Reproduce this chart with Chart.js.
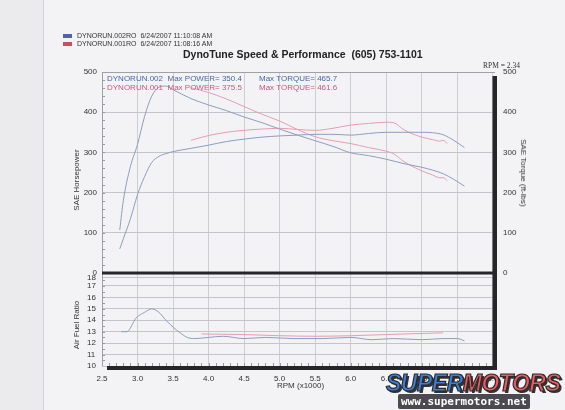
<!DOCTYPE html>
<html><head><meta charset="utf-8">
<script src="https://cdn.jsdelivr.net/npm/chart.js@4/dist/chart.umd.min.js"></script>
<style>
html,body{margin:0;padding:0;background:#f2f2f4;}
#wrap{position:relative;width:565px;height:410px;overflow:hidden;font-family:"Liberation Sans",Arial,sans-serif;background:#f3f3f5;}
#strip{position:absolute;left:0;top:0;width:43px;height:410px;background:#ebebee;border-right:1px solid #d2d2d6;}
canvas{position:absolute;left:0;top:0;}
.t{position:absolute;white-space:pre;line-height:1;}
.rot{position:absolute;white-space:pre;line-height:1;transform:translate(-50%,-50%) rotate(-90deg);}
.rot2{position:absolute;white-space:pre;line-height:1;transform:translate(-50%,-50%) rotate(90deg);}
.sq{position:absolute;width:9px;height:4px;}
#wm{position:absolute;left:386px;top:370px;font:italic bold 23px "Liberation Sans",Arial,sans-serif;letter-spacing:-0.5px;-webkit-text-stroke:1.2px #2a2a2e;text-shadow:2px 2px 0 #333;}
#wm2{position:absolute;left:398px;top:394px;font:bold 11px "DejaVu Sans Mono","Liberation Mono",monospace;color:#fff;background:#4a4a50;padding:1px 3px;border-radius:2px;}
</style></head><body>
<div id="wrap">
<div id="strip"></div>
<canvas id="c" width="565" height="410"></canvas>
<div class="sq" style="left:63px;top:34px;background:#4a66a6"></div>
<div class="t" style="left:77px;top:32px;font-size:7px;color:#333">DYNORUN.002RO  6/24/2007 11:10:08 AM</div>
<div class="sq" style="left:63px;top:42px;background:#c8505e"></div>
<div class="t" style="left:77px;top:40px;font-size:7px;color:#333">DYNORUN.001RO  6/24/2007 11:08:16 AM</div>
<div class="t" style="left:183px;top:49px;font-size:10.5px;font-weight:bold;color:#222">DynoTune Speed &amp; Performance  (605) 753-1101</div>
<div class="t" style="left:483px;top:62px;font-size:7.5px;font-family:'Liberation Serif',serif;color:#333">RPM = 2.34</div>
<div class="t" style="left:107px;top:75px;font-size:8px;color:#4a66a6">DYNORUN.002  Max POWER= 350.4</div>
<div class="t" style="left:259px;top:75px;font-size:8px;color:#4a66a6">Max TORQUE= 465.7</div>
<div class="t" style="left:107px;top:84px;font-size:8px;color:#c8587a">DYNORUN.001  Max POWER= 375.5</div>
<div class="t" style="left:259px;top:84px;font-size:8px;color:#c8587a">Max TORQUE= 461.6</div>
<div class="rot" style="left:77px;top:180px;font-size:8px;color:#333">SAE Horsepower</div>
<div class="rot" style="left:77px;top:325px;font-size:8px;color:#333">Air Fuel Ratio</div>
<div class="rot2" style="left:523px;top:173px;font-size:8px;color:#333">SAE Torque (ft-lbs)</div>
<div class="t" style="left:277px;top:382px;font-size:8px;color:#333">RPM (x1000)</div>
<div id="wm"><span style="color:#3d7fd8">SUPER</span><span style="color:#f05a5e">MOTORS</span></div>
<div id="wm2">www.supermotors.net</div>
</div>
<script>
// ---- data (rpm in x1000) ----
const rpm002 = [2.75,2.8,2.9,3.0,3.1,3.2,3.3,3.4,3.5,3.75,4.0,4.25,4.5,4.75,5.0,5.25,5.5,5.75,6.0,6.25,6.5,6.75,7.0,7.15,7.3,7.45,7.6];
const hp002  = [60,85,135,195,240,275,290,297,302,310,318,327,333,338,341,343,345,345,343,347,350,350,350,349,344,330,312];
const tq002  = [107,180,265,320,390,440,462,465,456,434,418,404,388,374,358,343,329,315,299,292,283,272,263,256,247,233,216];
const rpm001 = [3.75,4.0,4.25,4.5,4.75,5.0,5.25,5.5,5.75,6.0,6.25,6.5,6.6,6.75,7.0,7.15,7.25,7.3,7.36];
const hp001  = [330,342,350,355,358,360,357,355,360,368,372,375,374,356,338,332,328,330,322];
const tq001  = [461,449,433,414,395,378,357,339,329,322,312,303,297,277,254,244,237,237,229];
const afrRpm002 = [2.77,2.85,2.98,3.1,3.2,3.3,3.4,3.5,3.6,3.7,3.8,4.0,4.2,4.5,4.8,5.2,5.6,6.0,6.3,6.6,7.0,7.3,7.5,7.6];
const afr002    = [13.0,13.0,14.2,14.7,15.0,14.7,14.0,13.4,12.9,12.5,12.4,12.5,12.6,12.4,12.5,12.4,12.4,12.5,12.3,12.4,12.3,12.4,12.4,12.2];
const afrRpm001 = [3.9,4.5,5.0,5.5,6.0,6.5,7.0,7.3];
const afr001    = [12.8,12.75,12.65,12.6,12.65,12.75,12.85,12.9];
const xTicks = [2.5,3.0,3.5,4.0,4.5,5.0,5.5,6.0,6.5,7.0,7.5,8.0];
const powerTicks = [0,100,200,300,400,500];
const torqueTicks = [0,100,200,300,400,500];
const afrTicks = [10,11,12,13,14,15,16,17,17.7];
const afrTickLabels = ['10','11','12','13','14','15','16','17','18'];

const pts = (xs, ys) => xs.map((x, i) => ({x: x, y: ys[i]}));
const BLUE = '#8c9cc2', RED = '#e59db0';
const tickFont = {family: '"Liberation Sans", Arial, sans-serif', size: 8};
const gridH = {color: '#c4c4ca', borderDash: [1, 2], drawTicks: false};

const ds = (label, data, color, axis) => ({label, data, borderColor: color, borderWidth: 1, pointRadius: 0, fill: false, cubicInterpolationMode: 'monotone', yAxisID: axis});

const frame = {
  id: 'frame',
  afterDraw(chart) {
    const ctx = chart.ctx, ca = chart.chartArea, xs = chart.scales.x, ys = chart.scales.y, ya = chart.scales.yAFR;
    ctx.save();
    ctx.strokeStyle = '#a0a0a6'; ctx.lineWidth = 1;
    ctx.beginPath();
    ctx.moveTo(ca.left, ca.top + 0.5); ctx.lineTo(ca.right, ca.top + 0.5);
    ctx.moveTo(ca.left + 0.5, ca.top); ctx.lineTo(ca.left + 0.5, ca.bottom);
    ctx.stroke();
    ctx.strokeStyle = '#9a9aa0';
    ctx.beginPath();
    for (let v = 2.6; v < 8.0; v += 0.1) {
      const p = Math.round(xs.getPixelForValue(v)) + 0.5;
      ctx.moveTo(p, ca.bottom - 3); ctx.lineTo(p, ca.bottom);
    }
    for (let v = 10.5; v < 17.7; v += 0.5) {
      const p = Math.round(ya.getPixelForValue(v)) + 0.5;
      ctx.moveTo(ca.left, p); ctx.lineTo(ca.left + 3, p);
    }
    for (let v = 20; v < 500; v += 20) {
      const p = Math.round(ys.getPixelForValue(v)) + 0.5;
      ctx.moveTo(ca.left, p); ctx.lineTo(ca.left + 3, p);
    }
    ctx.stroke();
    ctx.fillStyle = '#262628';
    const yz = ys.getPixelForValue(0);
    ctx.fillRect(ca.left, yz - 1.5, ca.right - ca.left, 3);
    ctx.fillRect(ca.right - 2.5, ca.top + 4, 4.5, ca.bottom - ca.top);
    ctx.fillRect(ca.left + 5, ca.bottom, ca.right - ca.left - 3, 4);
    ctx.restore();
  }
};

new Chart(document.getElementById('c'), {
  type: 'line',
  data: {datasets: [
    ds('DYNORUN.002 HP', pts(rpm002, hp002), BLUE, 'y'),
    ds('DYNORUN.002 TQ', pts(rpm002, tq002), BLUE, 'y2'),
    ds('DYNORUN.001 HP', pts(rpm001, hp001), RED, 'y'),
    ds('DYNORUN.001 TQ', pts(rpm001, tq001), RED, 'y2'),
    ds('DYNORUN.002 AFR', pts(afrRpm002, afr002), BLUE, 'yAFR'),
    ds('DYNORUN.001 AFR', pts(afrRpm001, afr001), RED, 'yAFR')
  ]},
  options: {
    responsive: false, animation: false, devicePixelRatio: 1,
    layout: {padding: {top: 72, left: 0, right: 0, bottom: 0}},
    plugins: {legend: {display: false}, tooltip: {enabled: false}},
    scales: {
      x: {type: 'linear', min: 2.5, max: 8.03,
        afterBuildTicks: s => { s.ticks = xTicks.map(v => ({value: v})); },
        afterFit: s => { s.height = 44; },
        ticks: {font: tickFont, color: '#333', padding: 8, maxRotation: 0, autoSkip: false, callback: v => Number(v).toFixed(1)},
        grid: {color: '#cdcdd2', drawTicks: false}, border: {display: false}},
      y: {position: 'left', weight: 1, min: -231.3, max: 500,
        afterBuildTicks: s => { s.ticks = powerTicks.map(v => ({value: v})); },
        afterFit: s => { s.width = 102; },
        ticks: {font: tickFont, color: '#333', padding: 5, autoSkip: false},
        grid: gridH, border: {display: false}},
      yAFR: {position: 'left', weight: 0, min: 10, max: 35.72,
        afterBuildTicks: s => { s.ticks = afrTicks.map(v => ({value: v})); },
        afterFit: s => { s.width = 0; },
        ticks: {font: tickFont, color: '#333', mirror: true, padding: -15, autoSkip: false, callback: (v, i) => afrTickLabels[i]},
        grid: gridH, border: {display: false}},
      y2: {position: 'right', min: -231.3, max: 500,
        afterBuildTicks: s => { s.ticks = torqueTicks.map(v => ({value: v})); },
        afterFit: s => { s.width = 70; },
        ticks: {font: tickFont, color: '#333', padding: 8, autoSkip: false},
        grid: {display: false, drawTicks: false}, border: {display: false}}
    }
  },
  plugins: [frame]
});
</script>
</body></html>
